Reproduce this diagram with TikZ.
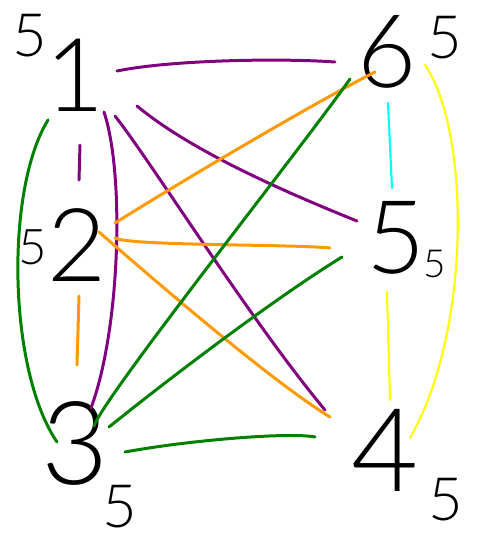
\documentclass[tikz,border=0pt]{standalone}
\usepackage{fontspec}
\newfontfamily\handfont{Lato Light}
\usetikzlibrary{calc}
\definecolor{edgepurple}{RGB}{128,0,128}
\definecolor{edgeorange}{RGB}{255,153,0}
\definecolor{edgegreen}{RGB}{0,128,0}
\definecolor{edgeyellow}{RGB}{255,255,0}
\definecolor{edgecyan}{RGB}{0,255,255}

\begin{document}
\begin{tikzpicture}[
  x=0.02cm,y=-0.02cm,
  vertex/.style={font=\handfont\fontsize{58}{58}\selectfont,inner sep=0pt},
  degree/.style={font=\handfont\fontsize{34}{34}\selectfont,inner sep=0pt},
  edge/.style={line width=1.7pt,line cap=round},
  purpleedge/.style={edge,draw=edgepurple},
  orangeedge/.style={edge,draw=edgeorange},
  greenedge/.style={edge,draw=edgegreen},
  yellowedge/.style={edge,draw=edgeyellow,line width=1.2pt},
  cyanedge/.style={edge,draw=edgecyan,line width=1.2pt}]
\useasboundingbox (0,0) rectangle (477,539);
\node[vertex] (n1) at (75,75) {1};
\node[vertex] (n2) at (77,245) {2};
\node[vertex,font=\handfont\fontsize{66}{66}\selectfont] (n3) at (75,443) {3};
\node[vertex] (n6) at (387,52) {6};
\node[vertex] (n5) at (396,238) {5};
\node[vertex,font=\handfont\fontsize{66}{66}\selectfont] (n4) at (385,450) {4};
\node[degree] (d1) at (30,36) {5};
\node[degree,font=\handfont\fontsize{28}{28}\selectfont] (d2) at (33,247) {5};
\node[degree] (d3) at (120,507) {5};
\node[degree] (d6) at (445,38) {5};
\node[degree,font=\handfont\fontsize{22}{22}\selectfont] (d5) at (435,264) {5};
\node[degree] (d4) at (446,500) {5};
\draw[purpleedge] ($(n1)+(42,-4)$) .. controls (170,60) and (280,58) .. ($(n6)+(-52,10)$);
\draw[purpleedge] ($(n1)+(62,31)$) .. controls (190,150) and (280,190) .. ($(n5)+(-39,-17)$);
\draw[purpleedge] ($(n1)+(40,41)$) .. controls (150,160) and (250,320) .. ($(n4)+(-60,-40)$);
\draw[purpleedge] ($(n1)+(29,37)$) .. controls (125,175) and (120,330) .. ($(n3)+(16,-35)$);
\draw[purpleedge] ($(n1)+(5,70)$) -- ($(n2)+(2,-65)$);
\draw[greenedge] ($(n1)+(-27,45)$) .. controls (5,190) and (8,370) .. ($(n3)+(-18,-1)$);
\draw[orangeedge] ($(n2)+(38,-22)$) .. controls (200,170) and (320,100) .. ($(n6)+(-12,20)$);
\draw[orangeedge] ($(n2)+(38,-7)$) .. controls (130,246) and (290,244) .. ($(n5)+(-66,10)$);
\draw[orangeedge] ($(n2)+(22,-13)$) .. controls (160,285) and (270,380) .. ($(n4)+(-55,-33)$);
\draw[orangeedge] ($(n2)+(2,51)$) -- ($(n3)+(2,-78)$);
\draw[greenedge] ($(n3)+(19,-17)$) .. controls (105,395) and (300,150) .. ($(n6)+(-37,27)$);
\draw[greenedge] ($(n3)+(34,-16)$) .. controls (180,370) and (280,295) .. ($(n5)+(-54,19)$);
\draw[greenedge] ($(n3)+(50,9)$) .. controls (190,440) and (290,432) .. ($(n4)+(-70,-13)$);
\draw[cyanedge] ($(n6)+(1,51)$) -- ($(n5)+(-4,-50)$);
\draw[yellowedge] ($(n5)+(-9,54)$) -- ($(n4)+(5,-50)$);
\draw[yellowedge] ($(n6)+(38,13)$) .. controls (470,130) and (472,330) .. ($(n4)+(25,-12)$);
\end{tikzpicture}
\end{document}
